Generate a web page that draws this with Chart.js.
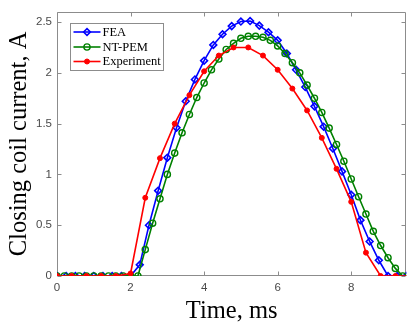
<!DOCTYPE html>
<html>
<head>
<meta charset="utf-8">
<script src="https://cdn.jsdelivr.net/npm/chart.js@4.4.1/dist/chart.umd.min.js"></script>
<style>
  html, body { margin: 0; padding: 0; background: #fff; }
  #wrap { width: 412px; height: 325px; }
</style>
</head>
<body>
<div id="wrap"><canvas id="myChart"></canvas></div>
<script>
// data (time in ms, current in A)
const feaTime = [0, 0.25, 0.5, 0.75, 1, 1.25, 1.5, 1.75, 2, 2.25, 2.5, 2.75, 3, 3.25, 3.5, 3.75, 4, 4.25, 4.5, 4.75,
    5, 5.25, 5.5, 5.75, 6, 6.25, 6.5, 6.75, 7, 7.25, 7.5, 7.75, 8, 8.25, 8.5, 8.75, 9, 9.25, 9.5];
const feaCurrent = [0, 0, 0, 0, 0, 0, 0, 0, 0, 0.11, 0.5, 0.84, 1.165, 1.46, 1.72, 1.935, 2.12, 2.275, 2.38, 2.46,
    2.505, 2.51, 2.465, 2.4, 2.32, 2.19, 2.03, 1.86, 1.67, 1.47, 1.255, 1.03, 0.8, 0.55, 0.34, 0.155, 0, 0, 0];

const pemTime = [0, 0.2, 0.4, 0.6, 0.8, 1, 1.2, 1.4, 1.6, 1.8, 2, 2.2, 2.4, 2.6, 2.8, 3, 3.2, 3.4, 3.6, 3.8,
    4, 4.2, 4.4, 4.6, 4.8, 5, 5.2, 5.4, 5.6, 5.8, 6, 6.2, 6.4, 6.6, 6.8, 7, 7.2, 7.4, 7.6, 7.8,
    8, 8.2, 8.4, 8.6, 8.8, 9, 9.2, 9.4];
const pemCurrent = [0, 0, 0, 0, 0, 0, 0, 0, 0, 0, 0, 0, 0.26, 0.52, 0.76, 1.0, 1.21, 1.41, 1.59, 1.757,
    1.9, 2.03, 2.136, 2.23, 2.29, 2.34, 2.36, 2.36, 2.35, 2.32, 2.265, 2.19, 2.1, 2.0, 1.88, 1.75, 1.61, 1.456, 1.295, 1.13,
    0.955, 0.78, 0.61, 0.44, 0.3, 0.18, 0.075, 0];

const expTime = [0, 0.4, 0.8, 1.2, 1.6, 2, 2.4, 2.8, 3.2, 3.6, 4, 4.4, 4.8, 5.2, 5.6, 6, 6.4, 6.8, 7.2, 7.6,
    8, 8.4, 8.8, 9.2, 9.6];
const expCurrent = [0, 0, 0, 0, 0, 0.025, 0.77, 1.16, 1.5, 1.78, 2.015, 2.17, 2.25, 2.25, 2.17, 2.03, 1.845, 1.63, 1.36, 1.055,
    0.73, 0.23, 0, 0, 0];

const xTicks = [0, 2, 4, 6, 8];
const yTicks = [0, 0.5, 1, 1.5, 2, 2.5];

function pairs(xs, ys) {
    return xs.map((x, i) => ({ x: x, y: ys[i] }));
}

const serif = "'Liberation Serif', 'Times New Roman', serif";
const sans = "'Liberation Sans', Arial, Helvetica, sans-serif";
const axisGray = '#8c8c8c';

// MATLAB style box with inward ticks
const boxPlugin = {
    id: 'box',
    beforeDatasetsDraw(chart) {
        const { ctx, chartArea: a, scales: { x, y } } = chart;
        const L = Math.round(a.left) + 0.5, R = Math.round(a.right) - 0.5;
        const T = Math.round(a.top) + 0.5, B = Math.round(a.bottom) - 0.5;
        const tl = 4;
        ctx.save();
        ctx.strokeStyle = axisGray;
        ctx.lineWidth = 1;
        ctx.beginPath();
        ctx.rect(L, T, R - L, B - T);
        xTicks.forEach(v => {
            const px = Math.round(x.getPixelForValue(v)) + 0.5;
            ctx.moveTo(px, B); ctx.lineTo(px, B - tl);
            ctx.moveTo(px, T); ctx.lineTo(px, T + tl);
        });
        yTicks.forEach(v => {
            const py = Math.round(y.getPixelForValue(v)) + 0.5;
            ctx.moveTo(L, py); ctx.lineTo(L + tl, py);
            ctx.moveTo(R, py); ctx.lineTo(R - tl, py);
        });
        ctx.stroke();
        ctx.restore();
    }
};

// boxed legend in the upper left corner of the axes
const legendPlugin = {
    id: 'boxLegend',
    afterDraw(chart) {
        const { ctx, chartArea: a } = chart;
        const bx = Math.round(a.left) + 13.5, by = Math.round(a.top) + 11.5;
        const bw = 93, bh = 47;
        ctx.save();
        ctx.fillStyle = '#fff';
        ctx.fillRect(bx, by, bw, bh);
        ctx.strokeStyle = axisGray;
        ctx.lineWidth = 1;
        ctx.strokeRect(bx, by, bw, bh);
        const rows = [8.5, 23.5, 38];
        chart.data.datasets.forEach((ds, i) => {
            const ry = by + rows[i];
            ctx.strokeStyle = ds.borderColor;
            ctx.lineWidth = ds.borderWidth;
            ctx.beginPath();
            ctx.moveTo(bx + 3, ry);
            ctx.lineTo(bx + 30, ry);
            ctx.stroke();
            ctx.fillStyle = ds.pointBackgroundColor;
            ctx.strokeStyle = ds.pointBorderColor;
            ctx.lineWidth = ds.pointBorderWidth;
            Chart.helpers.drawPoint(ctx, {
                pointStyle: ds.pointStyle,
                radius: ds.pointRadius,
                borderWidth: ds.pointBorderWidth,
                rotation: 0
            }, bx + 16.5, ry);
            ctx.fillStyle = '#000';
            ctx.font = '12.5px ' + serif;
            ctx.textBaseline = 'middle';
            ctx.textAlign = 'left';
            ctx.fillText(ds.label, bx + 32, ry + 0.5);
        });
        ctx.restore();
    }
};

const ctx = document.getElementById('myChart').getContext('2d');

let chart = new Chart(ctx, {
    type: 'line',
    data: {
        datasets: [
            {
                label: 'FEA',
                data: pairs(feaTime, feaCurrent),
                borderColor: '#0000ff',
                borderWidth: 1.6,
                pointStyle: 'rectRot',
                pointRadius: 3.4,
                pointBorderWidth: 1.6,
                pointBorderColor: '#0000ff',
                pointBackgroundColor: 'rgba(255,255,255,0)',
                order: 3
            },
            {
                label: 'NT-PEM',
                data: pairs(pemTime, pemCurrent),
                borderColor: '#008000',
                borderWidth: 1.6,
                pointStyle: 'circle',
                pointRadius: 3.1,
                pointBorderWidth: 1.4,
                pointBorderColor: '#008000',
                pointBackgroundColor: 'rgba(255,255,255,0)',
                order: 2
            },
            {
                label: 'Experiment',
                data: pairs(expTime, expCurrent),
                borderColor: '#ff0000',
                borderWidth: 1.6,
                pointStyle: 'circle',
                pointRadius: 2.5,
                pointBorderWidth: 1,
                pointBorderColor: '#ff0000',
                pointBackgroundColor: '#ff0000',
                order: 1
            }
        ]
    },
    options: {
        responsive: true,
        maintainAspectRatio: false,
        devicePixelRatio: 1,
        animation: false,
        layout: { padding: { top: 9, right: 4, left: 0, bottom: 0 } },
        elements: { line: { tension: 0 } },
        plugins: {
            legend: { display: false },
            tooltip: { enabled: false }
        },
        scales: {
            x: {
                type: 'linear',
                min: 0,
                max: 9.5,
                afterBuildTicks(scale) { scale.ticks = xTicks.map(v => ({ value: v })); },
                afterFit(scale) { scale.height = 49; },
                grid: { display: false, drawTicks: false },
                border: { display: false },
                ticks: {
                    padding: 5,
                    color: '#4a4a4a',
                    font: { family: sans, size: 11.5 },
                    maxRotation: 0,
                    callback: v => String(v)
                },
                title: {
                    display: true,
                    text: 'Time, ms',
                    color: '#000',
                    font: { family: serif, size: 24.5, lineHeight: 1.08 },
                    padding: { top: 0, bottom: 0 }
                }
            },
            y: {
                min: 0,
                max: 2.6,
                afterBuildTicks(scale) { scale.ticks = yTicks.map(v => ({ value: v })); },
                afterFit(scale) { scale.width = 57; },
                grid: { display: false, drawTicks: false },
                border: { display: false },
                ticks: {
                    padding: 5,
                    color: '#4a4a4a',
                    font: { family: sans, size: 11.5 },
                    callback: v => String(v)
                },
                title: {
                    display: true,
                    text: 'Closing coil current, A',
                    color: '#000',
                    font: { family: serif, size: 24.5, lineHeight: 1.08 },
                    padding: { top: 6, bottom: 0 }
                }
            }
        }
    },
    plugins: [boxPlugin, legendPlugin]
});
</script>
</body>
</html>
